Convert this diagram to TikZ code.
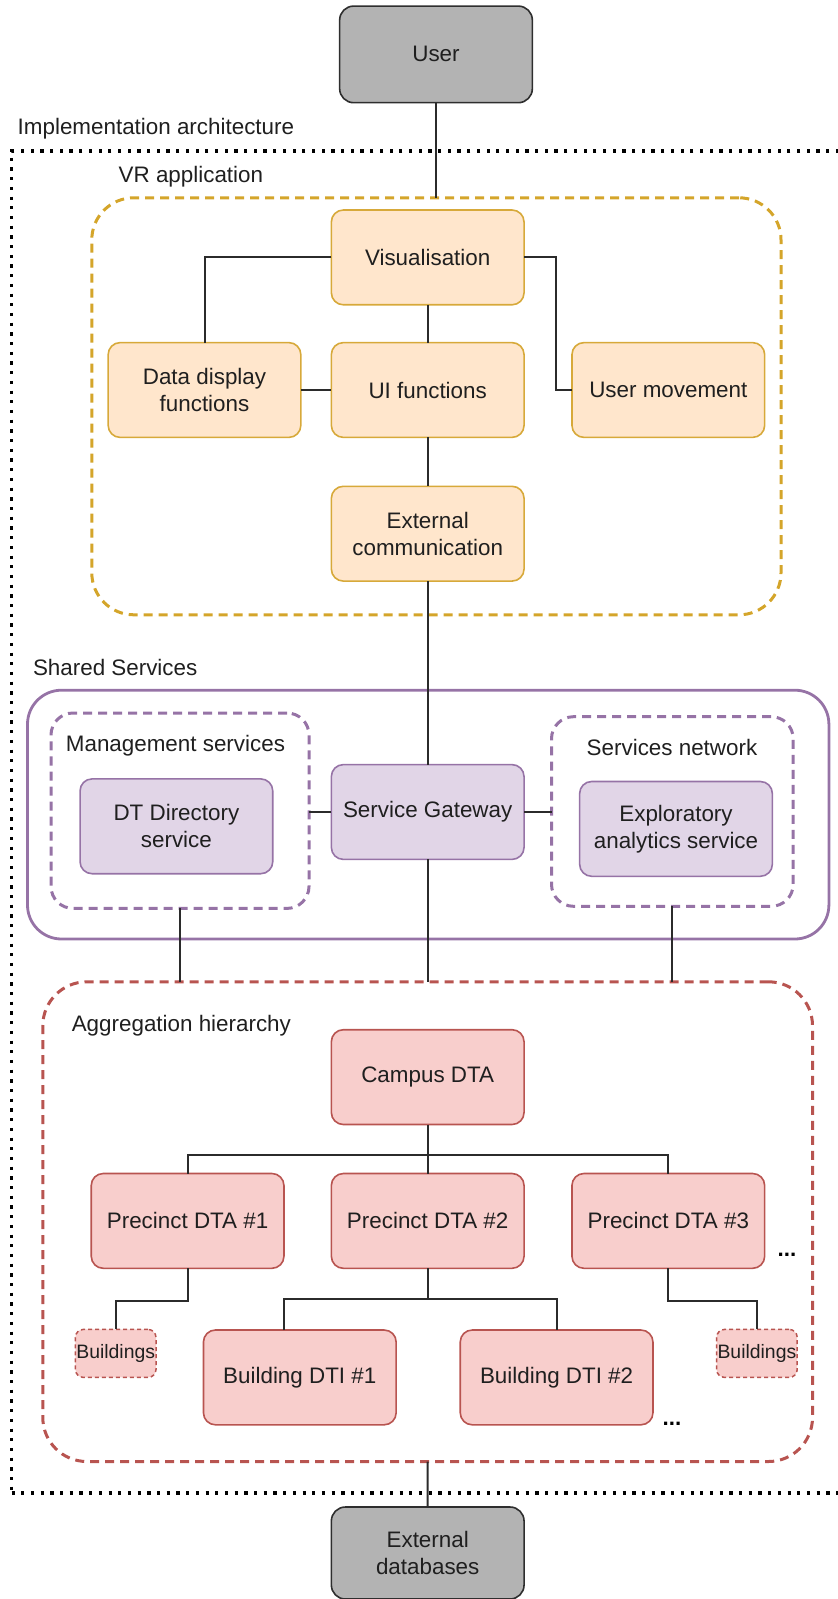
\documentclass[tikz,border=0pt]{standalone}
\usepackage{fontspec}
\setmainfont{Liberation Sans}
\usetikzlibrary{calc}

\definecolor{grayfill}{HTML}{B3B3B3}
\definecolor{grayline}{HTML}{2E2E2E}
\definecolor{orgfill}{HTML}{FFE6CC}
\definecolor{orgline}{HTML}{D7A93A}
\definecolor{vrline}{HTML}{D4A52A}
\definecolor{purfill}{HTML}{E1D5E7}
\definecolor{purline}{HTML}{9673A6}
\definecolor{redfill}{HTML}{F8CECC}
\definecolor{redline}{HTML}{B85450}
\definecolor{wirec}{HTML}{2B2B2B}

\newcommand{\boxfont}{\fontsize{11.2pt}{13.6pt}\selectfont}
\newcommand{\smallboxfont}{\fontsize{9.7pt}{11pt}\selectfont}

\tikzset{
  basebox/.style={rectangle, rounded corners=6pt, minimum width=96.35pt,
    minimum height=47.4pt, inner sep=0pt, outer sep=0pt, line width=0.8pt,
    align=center, font=\boxfont, text=black!88},
  graybox/.style={basebox, fill=grayfill, draw=grayline},
  orgbox/.style={basebox, fill=orgfill, draw=orgline},
  purbox/.style={basebox, fill=purfill, draw=purline},
  redbox/.style={basebox, fill=redfill, draw=redline},
  smallred/.style={rectangle, rounded corners=4pt, minimum width=40.3pt,
    minimum height=24pt, inner sep=0pt, outer sep=0pt, fill=redfill,
    draw=redline, line width=0.75pt, dash pattern=on 2pt off 1.5pt,
    font=\smallboxfont, text=black!88},
  container/.style={rectangle, inner sep=0pt, outer sep=0pt,
    line width=1.5pt, dash pattern=on 4.5pt off 3pt},
  frame/.style={rectangle, inner sep=0pt, outer sep=0pt, draw=black,
    line width=1.6pt, dash pattern=on 1.6pt off 3.25pt},
  wire/.style={draw=wirec, line width=1pt},
  lbl/.style={anchor=west, inner sep=0pt, font=\boxfont, text=black!88},
  more/.style={anchor=base, inner sep=0pt, font=\boxfont\bfseries}
}

\begin{document}
\begin{tikzpicture}[x=0.5pt,y=-0.5pt]
\useasboundingbox (0,0) rectangle (838,1599);

% outer frame of the implementation
\node[frame, minimum width=424.25pt, minimum height=671pt] (impl) at (435.75,822) {};
\node[lbl] (impltxt) at (17.3,128.4) {Implementation architecture};

% containers
\node[container, draw=vrline, rounded corners=21pt,
      minimum width=344.6pt, minimum height=208.5pt] (vr) at (436.4,406.3) {};
\node[lbl] (vrtxt) at (118.3,176.3) {VR application};

\node[rectangle, inner sep=0pt, outer sep=0pt, draw=purline, line width=1.4pt,
      rounded corners=17pt, minimum width=400.7pt, minimum height=124.4pt]
      (shared) at (428.2,814.6) {};
\node[lbl] (sharedtxt) at (32.6,667.8) {Shared Services};

\node[container, draw=purline, rounded corners=11pt,
      minimum width=129pt, minimum height=97.7pt] (mgmt) at (180,810.7) {};
\node[lbl] (mgmttxt) at (65.5,746.2) {Management services};

\node[container, draw=purline, rounded corners=11pt,
      minimum width=120.85pt, minimum height=94.8pt] (svcnet) at (672.35,811.5) {};
\node[anchor=center, inner sep=0pt, font=\boxfont, text=black!88] (svcnettxt)
      at (672,747.3) {Services network};

\node[container, draw=redline, rounded corners=22pt,
      minimum width=384.85pt, minimum height=239.85pt] (agg) at (427.65,1221.65) {};
\node[lbl] (aggtxt) at (71.4,1025.6) {Aggregation hierarchy};

% boxes
\node[graybox, minimum height=48.3pt, rounded corners=7pt] (user) at (436,54.4) {User};

\node[orgbox] (vis) at (427.7,257.4) {Visualisation};
\node[orgbox] (dd)  at (204.5,390) {Data display\\functions};
\node[orgbox] (ui)  at (427.7,390) {UI functions};
\node[orgbox] (um)  at (668.3,390) {User movement};
\node[orgbox] (ext) at (427.7,533.7) {External\\communication};

\node[purbox] (sg)    at (427.7,812) {Service Gateway};
\node[purbox] (dtdir) at (176.4,826.3) {DT Directory\\service};
\node[purbox] (expl)  at (676,828.9) {Exploratory\\analytics service};

\node[redbox] (campus) at (427.7,1077.1) {Campus DTA};
\node[redbox] (p1) at (187.6,1220.9) {Precinct DTA \#1};
\node[redbox] (p2) at (427.7,1220.9) {Precinct DTA \#2};
\node[redbox] (p3) at (668.3,1220.9) {Precinct DTA \#3};
\node[redbox] (b1) at (299.8,1377.4) {Building DTI \#1};
\node[redbox] (b2) at (556.6,1377.4) {Building DTI \#2};
\node[smallred] (bl) at (115.7,1353.4) {Buildings};
\node[smallred] (br) at (756.9,1353.4) {Buildings};
\node[more] (more1) at (787,1256) {...};
\node[more] (more2) at (672,1425) {...};

\node[graybox, minimum height=46pt, rounded corners=7pt] (extdb) at (427.7,1553) {External\\databases};

% connectors
\draw[wire] (user.south) -- (user.south |- vr.north);
\draw[wire] (vis.west) -| (dd.north);
\draw[wire] (vis.east) -- ++(31.6,0) |- (um.west);
\draw[wire] (vis.south) -- (ui.north);
\draw[wire] (dd.east) -- (ui.west);
\draw[wire] (ui.south) -- (ext.north);
\draw[wire] (ext.south) -- (sg.north);
\draw[wire] (sg.west) -- (sg.west -| mgmt.east);
\draw[wire] (sg.east) -- (sg.east -| svcnet.west);
\draw[wire] (mgmt.south) -- (mgmt.south |- agg.north);
\draw[wire] (sg.south) -- (sg.south |- agg.north);
\draw[wire] (svcnet.south) -- (svcnet.south |- agg.north);

\draw[wire] (campus.south) -- (p2.north);
\draw[wire] (p1.north) -- ++(0,-18.3) -| (p3.north);
\draw[wire] (p1.south) -- ++(0,32.6) -| (bl.north);
\draw[wire] (p2.south) -- ++(0,31) coordinate (split2);
\draw[wire] (b1.north -| p1.east) |- (split2) -| (b2.north);
\draw[wire] (p3.south) -- ++(0,32.6) -| (br.north);
\draw[wire] (agg.south) -- (extdb.north);
\end{tikzpicture}
\end{document}
